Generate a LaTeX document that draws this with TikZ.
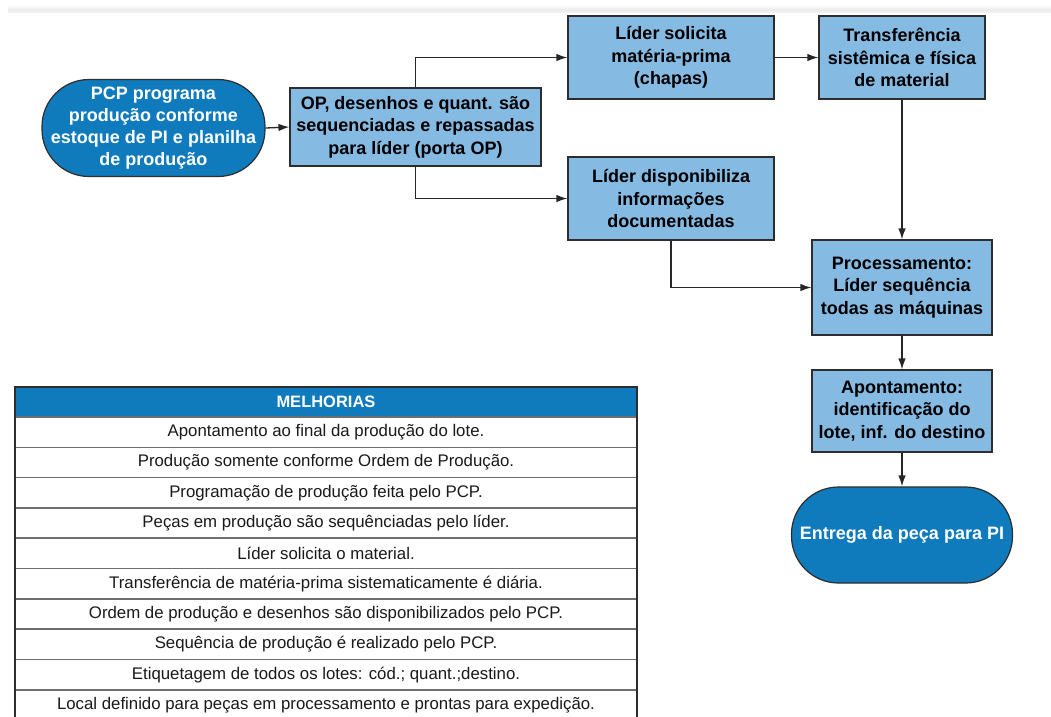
\documentclass[tikz,border=0pt]{standalone}
\usepackage{fontspec}
\setmainfont{Liberation Sans}
\usetikzlibrary{arrows.meta}
\definecolor{termblue}{RGB}{16,123,188}
\definecolor{boxblue}{RGB}{133,186,227}
\definecolor{edgegray}{RGB}{45,45,45}
\definecolor{rulegray}{RGB}{110,110,110}
\definecolor{textdark}{RGB}{25,25,25}

\begin{document}
\begin{tikzpicture}[x=1pt,y=-1pt,
  procbox/.style={draw=edgegray, line width=1.2pt, fill=boxblue, align=center,
    text=black, inner sep=0pt, font=\bfseries\fontsize{18}{22.5}\selectfont},
  termbox/.style={draw=edgegray, line width=1.2pt, fill=termblue, align=center,
    text=white, inner sep=0pt, rounded corners=47pt,
    font=\bfseries\fontsize{18}{22}\selectfont},
  link/.style={draw=black!85, line width=1.3pt, -{Latex[length=11pt,width=7.5pt]}},
  cell/.style={font=\fontsize{16.8}{18}\selectfont, text=textdark, inner sep=0pt},
  headcell/.style={font=\bfseries\fontsize{16.5}{18}\selectfont, text=white, inner sep=0pt}
]
\useasboundingbox (0,0) rectangle (1051,716);

% faint band along the top edge
\shade[top color=white, bottom color=black!10] (8,5) rectangle (1051,11);
\fill[black!6] (8,11) rectangle (1051,13);

% flow nodes
\node[termbox, minimum width=223pt, minimum height=97pt] (pcp) at (153.5,128)
  {PCP programa\\produção conforme\\estoque de PI e planilha\\de produção};
\node[procbox, minimum width=251pt, minimum height=78pt] (op) at (415.5,127)
  {OP, desenhos e quant. são\\sequenciadas e repassadas\\para líder (porta OP)};
\node[procbox, minimum width=206pt, minimum height=83pt] (lider) at (671,57.5)
  {Líder solicita\\matéria-prima\\(chapas)};
\node[procbox, minimum width=166pt, minimum height=83pt] (transf) at (902,57.5)
  {Transferência\\sistêmica e física\\de material};
\node[procbox, minimum width=206pt, minimum height=83pt] (disp) at (671,198.5)
  {Líder disponibiliza\\informações\\documentadas};
\node[procbox, minimum width=180pt, minimum height=95pt] (proc) at (902,287.5)
  {Processamento:\\Líder sequência\\todas as máquinas};
\node[procbox, minimum width=180pt, minimum height=82pt] (apont) at (902,411)
  {Apontamento:\\identificação do\\lote, inf. do destino};
\node[termbox, minimum width=221pt, minimum height=96pt] (entrega) at (902,535)
  {Entrega da peça para PI};

% connectors
\draw[link] (pcp.east) -- (op.west);
\draw[link] (op.north) |- (lider.west);
\draw[link] (op.south) |- (disp.west);
\draw[link] (lider.east) -- (transf.west);
\draw[link] (transf.south) -- (proc.north);
\draw[link] (disp.south) |- (proc.west);
\draw[link] (proc.south) -- (apont.north);
\draw[link] (apont.south) -- (entrega.north);

% table of improvements
\def\tl{15}\def\tr{637}\def\rh{30.3}
\fill[termblue] (\tl,387) rectangle (\tr,417);
\node[headcell] (head) at (326,402) {MELHORIAS};
\foreach \i/\txt in {
  0/{Apontamento ao final da produção do lote.},
  1/{Produção somente conforme Ordem de Produção.},
  2/{Programação de produção feita pelo PCP.},
  3/{Peças em produção são sequênciadas pelo líder.},
  4/{Líder solicita o material.},
  5/{Transferência de matéria-prima sistematicamente é diária.},
  6/{Ordem de produção e desenhos são disponibilizados pelo PCP.},
  7/{Sequência de produção é realizado pelo PCP.},
  8/{Etiquetagem de todos os lotes: cód.; quant.;destino.},
  9/{Local definido para peças em processamento e prontas para expedição.}} {
  \node[cell] (row\i) at (326,{417+(\i+0.5)*\rh}) {\txt};
  \draw[rulegray, line width=1.6pt] (\tl,{417+(\i+1)*\rh}) -- (\tr,{417+(\i+1)*\rh});
}
\draw[rulegray, line width=1.6pt] (\tl,417) -- (\tr,417);
\draw[edgegray, line width=1.2pt] (\tl,730) -- (\tl,387) -- (\tr,387) -- (\tr,730);
\end{tikzpicture}
\end{document}
